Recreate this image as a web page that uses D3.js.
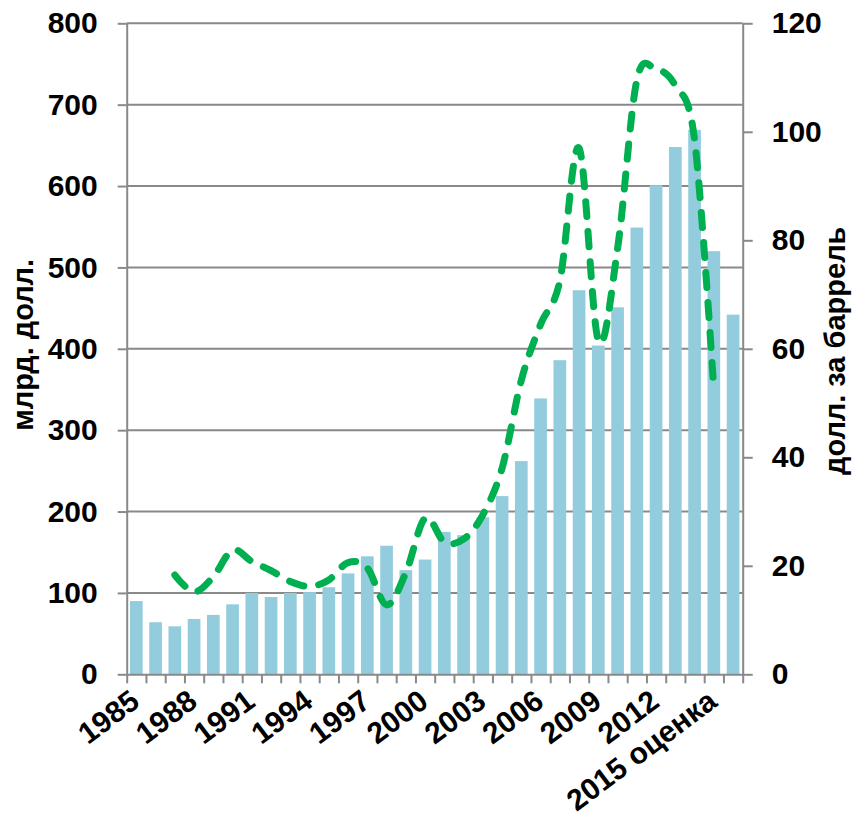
<!DOCTYPE html>
<html>
<head>
<meta charset="utf-8">
<script src="https://cdn.jsdelivr.net/npm/d3@7"></script>
<style>
  html, body { margin: 0; padding: 0; background: #fff; }
  svg { display: block; font-family: Arial, "Liberation Sans", sans-serif; }
</style>
</head>
<body>
<svg id="chart" width="854" height="822"></svg>
<script>
// ---- data ----
const categories = ["1985","1986","1987","1988","1989","1990","1991","1992","1993","1994",
  "1995","1996","1997","1998","1999","2000","2001","2002","2003","2004",
  "2005","2006","2007","2008","2009","2010","2011","2012","2013","2014",
  "2015 оценка","2016 прогноз"];
const revenue = [90, 64, 59, 68, 73, 86, 100, 95, 100, 101,
  107, 124, 145, 158, 128, 141, 175, 171, 193, 219,
  262, 339, 386, 472, 404, 451, 549, 601, 648, 669,
  520, 442];
const oilPrice = [null, null, 18.3, 15.2, 18.0, 22.9, 20.8, 19.1, 17.1, 16.2,
  17.4, 20.6, 19.6, 12.8, 18.7, 28.8, 24.4, 24.9, 29.4, 38.0,
  54.2, 64.5, 72.5, 97.0, 61.5, 78.5, 109.5, 111.5, 108.5, 98.5,
  52.5, null];
const tickLabels = ["1985","1988","1991","1994","1997","2000","2003","2006","2009","2012","2015 оценка"];
const leftTicks = [0,100,200,300,400,500,600,700,800];
const rightTicks = [0,20,40,60,80,100,120];
const leftTitle = "млрд. долл.";
const rightTitle = "долл. за баррель";

// ---- layout ----
const X0 = 126.7, X1 = 742.7, Y0 = 674.3, Y1 = 23.3;
const axisColor = "#898989";
const svg = d3.select("#chart");

const x = d3.scaleBand().domain(categories).range([X0, X1]).paddingInner(0.34).paddingOuter(0.17);
const xb = d3.scaleLinear().domain([0, categories.length]).range([X0, X1]);
const yL = d3.scaleLinear().domain([0, 800]).range([Y0, Y1]);
const yR = d3.scaleLinear().domain([0, 120]).range([Y0, Y1]);

// gridlines
svg.append("g").selectAll("line").data(leftTicks.filter(d => d > 0)).join("line")
  .attr("x1", X0).attr("x2", X1)
  .attr("y1", d => yL(d)).attr("y2", d => yL(d))
  .attr("stroke", axisColor).attr("stroke-width", 2);

// bars
svg.append("g").selectAll("rect").data(revenue).join("rect")
  .attr("x", (d, i) => x(categories[i]))
  .attr("width", x.bandwidth())
  .attr("y", d => yL(d))
  .attr("height", d => Y0 - yL(d))
  .attr("fill", "#93CDDD");

// line
const pts = oilPrice.map((v, i) => ({ i, v })).filter(d => d.v !== null);
const line = d3.line()
  .x(d => x(categories[d.i]) + x.bandwidth() / 2)
  .y(d => yR(d.v))
  .curve(d3.curveCardinal.tension(0));
svg.append("path").datum(pts)
  .attr("d", line)
  .attr("fill", "none")
  .attr("stroke", "#00B050")
  .attr("stroke-width", 7)
  .attr("stroke-linecap", "round")
  .attr("stroke-linejoin", "round")
  .attr("stroke-dasharray", "15,15");

// axes
function styleAxis(g) {
  g.selectAll(".domain").attr("stroke", axisColor).attr("stroke-width", 2);
  g.selectAll(".tick line").attr("stroke", axisColor).attr("stroke-width", 2);
  g.selectAll(".tick text")
    .attr("fill", "#000").attr("font-size", 30).attr("font-weight", "bold")
    .attr("font-family", "Arial, 'Liberation Sans', sans-serif");
}

const gL = svg.append("g").attr("transform", `translate(${X0},0)`)
  .call(d3.axisLeft(yL).tickValues(leftTicks).tickSize(9).tickSizeOuter(0).tickPadding(20));
styleAxis(gL);

const gR = svg.append("g").attr("transform", `translate(${X1},0)`)
  .call(d3.axisRight(yR).tickValues(rightTicks).tickSize(10).tickSizeOuter(0).tickPadding(19));
styleAxis(gR);

const gB = svg.append("g").attr("transform", `translate(0,${Y0})`)
  .call(d3.axisBottom(xb).tickValues(d3.range(categories.length + 1)).tickSize(9).tickSizeOuter(0).tickFormat(""));
styleAxis(gB);

// category labels (rotated)
svg.append("g").selectAll("text")
  .data(categories.filter(c => tickLabels.includes(c)))
  .join("text")
  .attr("transform", d => `translate(${x(d) + x.bandwidth() / 2 + 5},${705}) rotate(-37)`)
  .attr("text-anchor", "end")
  .attr("font-size", 30).attr("font-weight", "bold").attr("fill", "#000")
  .text(d => d);

// axis titles
svg.append("text")
  .attr("transform", `translate(33,${(Y0 + Y1) / 2 - 4}) rotate(-90)`)
  .attr("text-anchor", "middle")
  .attr("font-size", 29).attr("font-weight", "bold").attr("fill", "#000")
  .text(leftTitle);

svg.append("text")
  .attr("transform", `translate(845,${(Y0 + Y1) / 2 + 2}) rotate(-90)`)
  .attr("text-anchor", "middle")
  .attr("font-size", 29).attr("font-weight", "bold").attr("fill", "#000")
  .text(rightTitle);
</script>
</body>
</html>
